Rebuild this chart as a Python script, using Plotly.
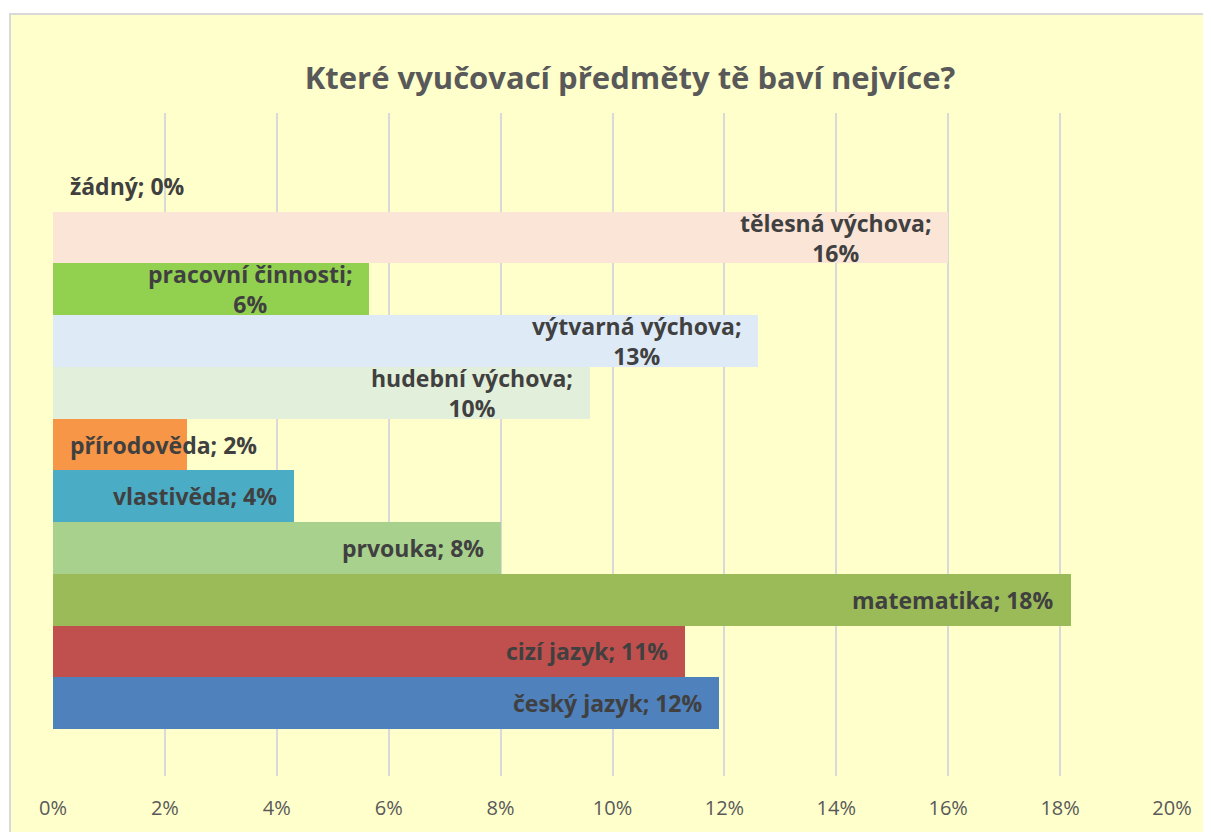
import plotly.graph_objects as go

# Data (bottom to top)
categories = ["český jazyk", "cizí jazyk", "matematika", "prvouka", "vlastivěda",
              "přírodověda", "hudební výchova", "výtvarná výchova", "pracovní činnosti",
              "tělesná výchova", "žádný"]
values = [11.9, 11.3, 18.2, 8.0, 4.3, 2.4, 9.6, 12.6, 5.65, 16.0, 0.0]
colors = ["#4F81BD", "#C0504D", "#9BBB59", "#A9D18E", "#4BACC6", "#F79646",
          "#E2EFDA", "#DEEBF7", "#92D050", "#FBE5D6", "#FBE5D6"]
x_ticks = [0, 2, 4, 6, 8, 10, 12, 14, 16, 18, 20]
title_text = "Které vyučovací předměty tě baví nejvíce?"

# page body has an 8px margin; work in figure coordinates
OFF = 8
W, H = 1211 - OFF, 832 - OFF
L, T = 45, 105
R = W - 1164
B = H - 768
pw, ph = W - L - R, H - T - B

def px_to_paper_x(p):
    return (p - OFF - L) / pw

def px_to_paper_y(p):
    return (H - B - (p - OFF)) / ph

FONT = "Open Sans"

fig = go.Figure()
fig.add_trace(go.Bar(
    x=values, y=categories, orientation="h",
    marker=dict(color=colors, line=dict(width=0)),
    hoverinfo="x+y", showlegend=False,
))

annotations = []
for cat, v in zip(categories, values):
    label_val = f"{round(v)}%"
    if len(cat) > 12:
        text = f"{cat};<br>{label_val}"
    else:
        text = f"{cat}; {label_val}"
    common = dict(xref="x", yref="y", text=text, yanchor="middle", showarrow=False,
                  align="center",
                  font=dict(family=FONT, size=23, color="#404040", weight="bold"))
    if v < 3:
        annotations.append(dict(x=0, y=cat, xanchor="left", xshift=15, **common))
    else:
        annotations.append(dict(x=v, y=cat, xanchor="right", xshift=-15, **common))

fig.update_layout(
    width=W, height=H,
    margin=dict(l=L, r=R, t=T, b=B, pad=0),
    paper_bgcolor="white",
    plot_bgcolor="rgba(0,0,0,0)",
    bargap=0,
    title=dict(text=title_text, x=(630 - OFF) / W, xanchor="center",
               y=1 - (78 - OFF) / H, yanchor="middle", yref="container",
               font=dict(family=FONT, size=31, color="#595959", weight="bold")),
    xaxis=dict(range=[0, 20], tickvals=x_ticks, ticktext=[f"{t}%" for t in x_ticks],
               showgrid=True, gridcolor="#D9D9D9", gridwidth=2, zeroline=False,
               showline=False, ticks="", ticklabelstandoff=18,
               tickfont=dict(family=FONT, size=20, color="#595959"), fixedrange=True),
    yaxis=dict(categoryorder="array", categoryarray=categories,
               range=[-1.41, len(categories) - 1 + 1.41], showticklabels=False,
               showgrid=False, zeroline=False, showline=False, ticks=""),
    annotations=annotations,
    shapes=[dict(type="rect", xref="paper", yref="paper", layer="below",
                 x0=px_to_paper_x(10), x1=px_to_paper_x(1260),
                 y0=px_to_paper_y(860), y1=px_to_paper_y(14),
                 fillcolor="#FFFFCC", line=dict(color="#D9D9D9", width=2))],
)

fig.write_html("out.html")
